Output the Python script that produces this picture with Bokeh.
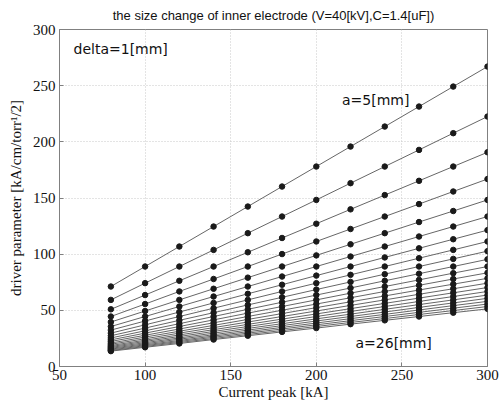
from bokeh.plotting import figure
from bokeh.embed import file_html
from bokeh.resources import INLINE
from bokeh.models import Label, Range1d, FixedTicker, Title

current_peak = [80, 100, 120, 140, 160, 180, 200, 220, 240, 260, 280, 300]
radius_mm = list(range(5, 27))

a05 = [71.2, 89.0, 106.8, 124.6, 142.4, 160.2, 178.0, 195.8, 213.6, 231.4, 249.2, 267.0]
a06 = [59.3, 74.2, 89.0, 103.8, 118.7, 133.5, 148.3, 163.2, 178.0, 192.8, 207.7, 222.5]
a07 = [50.9, 63.6, 76.3, 89.0, 101.7, 114.4, 127.1, 139.9, 152.6, 165.3, 178.0, 190.7]
a08 = [44.5, 55.6, 66.8, 77.9, 89.0, 100.1, 111.3, 122.4, 133.5, 144.6, 155.8, 166.9]
a09 = [39.6, 49.4, 59.3, 69.2, 79.1, 89.0, 98.9, 108.8, 118.7, 128.6, 138.4, 148.3]
a10 = [35.6, 44.5, 53.4, 62.3, 71.2, 80.1, 89.0, 97.9, 106.8, 115.7, 124.6, 133.5]
a11 = [32.4, 40.5, 48.5, 56.6, 64.7, 72.8, 80.9, 89.0, 97.1, 105.2, 113.3, 121.4]
a12 = [29.7, 37.1, 44.5, 51.9, 59.3, 66.8, 74.2, 81.6, 89.0, 96.4, 103.8, 111.3]
a13 = [27.4, 34.2, 41.1, 47.9, 54.8, 61.6, 68.5, 75.3, 82.2, 89.0, 95.8, 102.7]
a14 = [25.4, 31.8, 38.1, 44.5, 50.9, 57.2, 63.6, 69.9, 76.3, 82.6, 89.0, 95.4]
a15 = [23.7, 29.7, 35.6, 41.5, 47.5, 53.4, 59.3, 65.3, 71.2, 77.1, 83.1, 89.0]
a16 = [22.3, 27.8, 33.4, 38.9, 44.5, 50.1, 55.6, 61.2, 66.8, 72.3, 77.9, 83.4]
a17 = [20.9, 26.2, 31.4, 36.6, 41.9, 47.1, 52.4, 57.6, 62.8, 68.1, 73.3, 78.5]
a18 = [19.8, 24.7, 29.7, 34.6, 39.6, 44.5, 49.4, 54.4, 59.3, 64.3, 69.2, 74.2]
a19 = [18.7, 23.4, 28.1, 32.8, 37.5, 42.2, 46.8, 51.5, 56.2, 60.9, 65.6, 70.3]
a20 = [17.8, 22.3, 26.7, 31.2, 35.6, 40.1, 44.5, 49.0, 53.4, 57.9, 62.3, 66.8]
a21 = [17.0, 21.2, 25.4, 29.7, 33.9, 38.1, 42.4, 46.6, 50.9, 55.1, 59.3, 63.6]
a22 = [16.2, 20.2, 24.3, 28.3, 32.4, 36.4, 40.5, 44.5, 48.5, 52.6, 56.6, 60.7]
a23 = [15.5, 19.3, 23.2, 27.1, 31.0, 34.8, 38.7, 42.6, 46.4, 50.3, 54.2, 58.0]
a24 = [14.8, 18.5, 22.3, 26.0, 29.7, 33.4, 37.1, 40.8, 44.5, 48.2, 51.9, 55.6]
a25 = [14.2, 17.8, 21.4, 24.9, 28.5, 32.0, 35.6, 39.2, 42.7, 46.3, 49.8, 53.4]
a26 = [13.7, 17.1, 20.5, 24.0, 27.4, 30.8, 34.2, 37.7, 41.1, 44.5, 47.9, 51.3]

series = [a05, a06, a07, a08, a09, a10, a11, a12, a13, a14, a15,
          a16, a17, a18, a19, a20, a21, a22, a23, a24, a25, a26]

x_ticks = [50, 100, 150, 200, 250, 300]
y_ticks = [0, 50, 100, 150, 200, 250, 300]

p = figure(width=501, height=406, output_backend="svg", toolbar_location=None,
           x_range=Range1d(50, 300), y_range=Range1d(0, 300),
           min_border_left=59, min_border_right=14, min_border_bottom=40, min_border_top=29)

p.add_layout(Title(text="the size change of inner electrode (V=40[kV],C=1.4[uF])",
                   align="center", vertical_align="top", text_font="Liberation Sans",
                   text_font_style="normal", text_font_size="13px", text_color="#111111",
                   standoff=9, offset=-4), "above")

for ys in series:
    p.line(current_peak, ys, line_color="#666666", line_width=1)
    p.scatter(current_peak, ys, size=5.5, fill_color="#1a1a1a", line_color="#1a1a1a")

p.xaxis.ticker = FixedTicker(ticks=x_ticks)
p.yaxis.ticker = FixedTicker(ticks=y_ticks)
for ax in (p.xaxis, p.yaxis):
    ax.axis_line_color = "#808080"
    ax.major_tick_line_color = "#808080"
    ax.major_tick_in = 4
    ax.major_tick_out = 0
    ax.minor_tick_line_color = None
    ax.major_label_text_font = "Liberation Serif"
    ax.major_label_text_font_size = "15px"
    ax.major_label_text_color = "#111111"
    ax.axis_label_text_font = "Liberation Serif"
    ax.axis_label_text_font_size = "15px"
    ax.axis_label_text_font_style = "normal"
    ax.axis_label_text_color = "#111111"

p.xaxis.axis_label = "Current peak [kA]"
p.yaxis.axis_label = "driver parameter [kA/cm/torr\u00b9/2]"
p.xaxis.major_label_standoff = 3
p.xaxis.axis_label_standoff = 1
p.yaxis.major_label_standoff = 4
p.yaxis.axis_label_standoff = 6

p.xgrid.ticker = FixedTicker(ticks=x_ticks)
p.ygrid.ticker = FixedTicker(ticks=y_ticks)
p.grid.grid_line_color = "#c8c8c8"
p.grid.grid_line_dash = "1 2"
p.grid.grid_line_width = 1

p.outline_line_color = "#808080"
p.outline_line_width = 1

p.add_layout(Label(x=58.2, y=283, text="delta=1[mm]", text_font="DejaVu Sans",
                   text_font_size="14px", text_baseline="middle", text_color="#111111"))
p.add_layout(Label(x=215, y=237, text="a=5[mm]", text_font="DejaVu Sans",
                   text_font_size="14px", text_baseline="middle", text_color="#111111"))
p.add_layout(Label(x=222.9, y=20.5, text="a=26[mm]", text_font="DejaVu Sans",
                   text_font_size="14px", text_baseline="middle", text_color="#111111"))

open("out.html", "w").write(file_html(p, INLINE))
